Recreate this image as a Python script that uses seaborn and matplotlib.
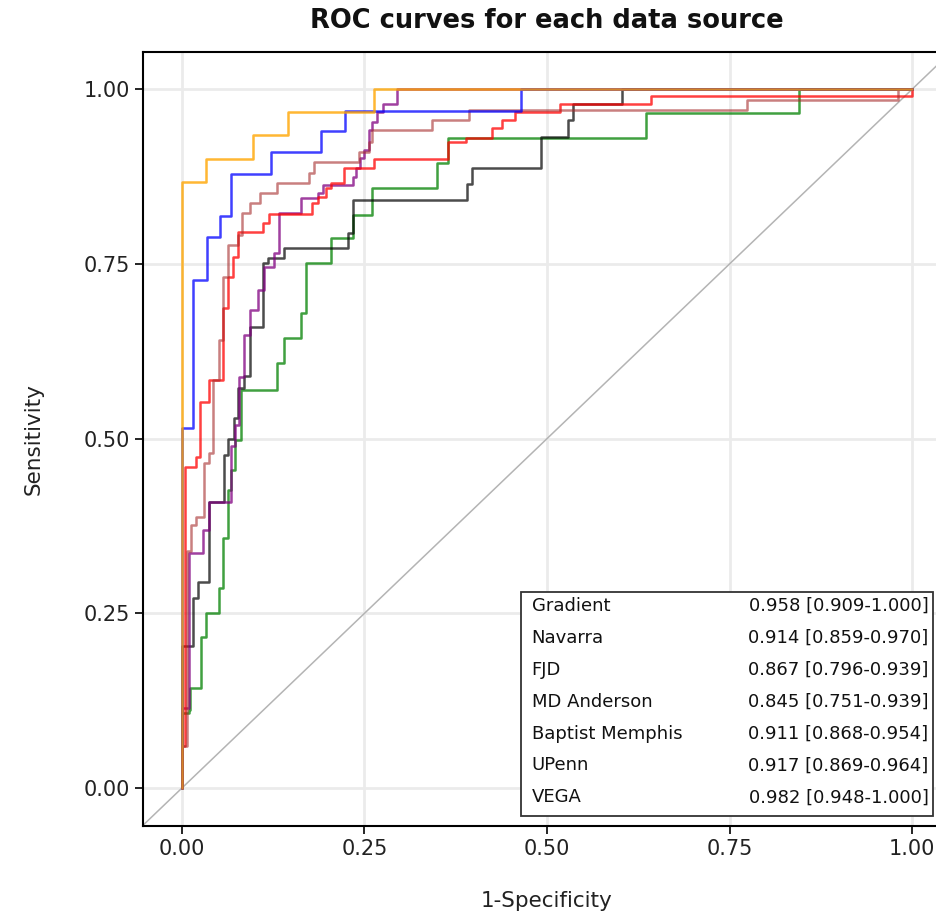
import numpy as np
import pandas as pd
import matplotlib
matplotlib.use("Agg")
import matplotlib.pyplot as plt
import seaborn as sns
from matplotlib.patches import Rectangle

# ---------------- data ----------------
sources = ["Gradient", "Navarra", "FJD", "MD Anderson", "Baptist Memphis", "UPenn", "VEGA"]
auc_text = ["0.958 [0.909-1.000]", "0.914 [0.859-0.970]", "0.867 [0.796-0.939]",
            "0.845 [0.751-0.939]", "0.911 [0.868-0.954]", "0.917 [0.869-0.964]",
            "0.982 [0.948-1.000]"]

gradient_fpr = [0, 0, 0.016, 0.016, 0.034, 0.034, 0.052, 0.052, 0.068, 0.068, 0.122, 0.122,
                0.190, 0.190, 0.224, 0.224, 0.465, 0.465, 1.0]
gradient_tpr = [0, 0.515, 0.515, 0.727, 0.727, 0.788, 0.788, 0.818, 0.818, 0.878, 0.878, 0.910,
                0.910, 0.940, 0.940, 0.969, 0.969, 1.0, 1.0]

navarra_fpr = [0, 0, 0.005, 0.005, 0.019, 0.019, 0.025, 0.025, 0.037, 0.037, 0.056, 0.056,
               0.063, 0.063, 0.070, 0.070, 0.077, 0.077, 0.111, 0.111, 0.119, 0.119, 0.178, 0.178,
               0.186, 0.186, 0.197, 0.197, 0.204, 0.204, 0.222, 0.222, 0.263, 0.263, 0.364, 0.364,
               0.389, 0.389, 0.425, 0.425, 0.439, 0.439, 0.456, 0.456, 0.518, 0.518, 0.642, 0.642,
               1.0, 1.0]
navarra_tpr = [0, 0.06, 0.06, 0.459, 0.459, 0.474, 0.474, 0.552, 0.552, 0.584, 0.584, 0.687,
               0.687, 0.731, 0.731, 0.760, 0.760, 0.795, 0.795, 0.808, 0.808, 0.821, 0.821, 0.837,
               0.837, 0.845, 0.845, 0.858, 0.858, 0.866, 0.866, 0.887, 0.887, 0.900, 0.900, 0.924,
               0.924, 0.930, 0.930, 0.944, 0.944, 0.956, 0.956, 0.967, 0.967, 0.979, 0.979, 0.990,
               0.990, 1.0]

fjd_fpr = [0, 0, 0.015, 0.015, 0.022, 0.022, 0.037, 0.037, 0.058, 0.058, 0.064, 0.064,
           0.071, 0.071, 0.077, 0.077, 0.085, 0.085, 0.094, 0.094, 0.111, 0.111, 0.118, 0.118,
           0.140, 0.140, 0.228, 0.228, 0.234, 0.234, 0.390, 0.390, 0.397, 0.397, 0.492, 0.492,
           0.529, 0.529, 0.536, 0.536, 0.603, 0.603, 1.0]
fjd_tpr = [0, 0.203, 0.203, 0.272, 0.272, 0.295, 0.295, 0.409, 0.409, 0.476, 0.476, 0.500,
           0.500, 0.530, 0.530, 0.573, 0.573, 0.590, 0.590, 0.660, 0.660, 0.751, 0.751, 0.759,
           0.759, 0.772, 0.772, 0.794, 0.794, 0.841, 0.841, 0.864, 0.864, 0.887, 0.887, 0.931,
           0.931, 0.956, 0.956, 0.979, 0.979, 1.0, 1.0]

mda_fpr = [0, 0, 0.010, 0.010, 0.012, 0.012, 0.026, 0.026, 0.033, 0.033, 0.051, 0.051,
           0.057, 0.057, 0.064, 0.064, 0.068, 0.068, 0.073, 0.073, 0.081, 0.081, 0.130, 0.130,
           0.140, 0.140, 0.163, 0.163, 0.170, 0.170, 0.205, 0.205, 0.235, 0.235, 0.260, 0.260,
           0.350, 0.350, 0.364, 0.364, 0.635, 0.635, 0.845, 0.845, 1.0]
mda_tpr = [0, 0.107, 0.107, 0.112, 0.112, 0.144, 0.144, 0.216, 0.216, 0.250, 0.250, 0.286,
           0.286, 0.358, 0.358, 0.426, 0.426, 0.455, 0.455, 0.498, 0.498, 0.569, 0.569, 0.608,
           0.608, 0.644, 0.644, 0.680, 0.680, 0.751, 0.751, 0.787, 0.787, 0.820, 0.820, 0.858,
           0.858, 0.894, 0.894, 0.930, 0.930, 0.966, 0.966, 1.0, 1.0]

baptist_fpr = [0, 0, 0.010, 0.010, 0.029, 0.029, 0.037, 0.037, 0.067, 0.067, 0.073, 0.073,
               0.078, 0.078, 0.085, 0.085, 0.094, 0.094, 0.105, 0.105, 0.112, 0.112, 0.126, 0.126,
               0.133, 0.133, 0.163, 0.163, 0.186, 0.186, 0.193, 0.193, 0.234, 0.234, 0.238, 0.238,
               0.244, 0.244, 0.250, 0.250, 0.256, 0.256, 0.261, 0.261, 0.267, 0.267, 0.276, 0.276,
               0.295, 0.295, 1.0]
baptist_tpr = [0, 0.115, 0.115, 0.336, 0.336, 0.369, 0.369, 0.409, 0.409, 0.490, 0.490, 0.520,
               0.520, 0.588, 0.588, 0.648, 0.648, 0.684, 0.684, 0.712, 0.712, 0.745, 0.745, 0.765,
               0.765, 0.823, 0.823, 0.844, 0.844, 0.851, 0.851, 0.863, 0.863, 0.874, 0.874, 0.887,
               0.887, 0.901, 0.901, 0.913, 0.913, 0.941, 0.941, 0.953, 0.953, 0.967, 0.967, 0.979,
               0.979, 1.0, 1.0]

upenn_fpr = [0, 0, 0.007, 0.007, 0.013, 0.013, 0.019, 0.019, 0.030, 0.030, 0.037, 0.037,
             0.043, 0.043, 0.051, 0.051, 0.056, 0.056, 0.063, 0.063, 0.077, 0.077, 0.082, 0.082,
             0.094, 0.094, 0.107, 0.107, 0.131, 0.131, 0.174, 0.174, 0.181, 0.181, 0.242, 0.242,
             0.256, 0.256, 0.261, 0.261, 0.343, 0.343, 0.393, 0.393, 0.774, 0.774, 0.981, 0.981,
             1.0]
upenn_tpr = [0, 0.06, 0.06, 0.340, 0.340, 0.376, 0.376, 0.388, 0.388, 0.465, 0.465, 0.479,
             0.479, 0.584, 0.584, 0.641, 0.641, 0.731, 0.731, 0.777, 0.777, 0.791, 0.791, 0.823,
             0.823, 0.837, 0.837, 0.851, 0.851, 0.866, 0.866, 0.880, 0.880, 0.896, 0.896, 0.910,
             0.910, 0.924, 0.924, 0.941, 0.941, 0.956, 0.956, 0.970, 0.970, 0.984, 0.984, 1.0,
             1.0]

vega_fpr = [0, 0, 0.033, 0.033, 0.098, 0.098, 0.146, 0.146, 0.263, 0.263, 1.0]
vega_tpr = [0, 0.867, 0.867, 0.900, 0.900, 0.934, 0.934, 0.967, 0.967, 1.0, 1.0]

ticks = [0.0, 0.25, 0.50, 0.75, 1.0]
tick_labels = ["0.00", "0.25", "0.50", "0.75", "1.00"]

curves = {
    "MD Anderson": (mda_fpr, mda_tpr),
    "FJD": (fjd_fpr, fjd_tpr),
    "Baptist Memphis": (baptist_fpr, baptist_tpr),
    "Navarra": (navarra_fpr, navarra_tpr),
    "UPenn": (upenn_fpr, upenn_tpr),
    "Gradient": (gradient_fpr, gradient_tpr),
    "VEGA": (vega_fpr, vega_tpr),
}
colors = {
    "MD Anderson": "#008000",
    "FJD": "#000000",
    "Baptist Memphis": "#800080",
    "Navarra": "#FF0000",
    "UPenn": "#A52A2A",
    "Gradient": "#0000FF",
    "VEGA": "#FFA500",
}
alphas = {"MD Anderson": 0.75, "FJD": 0.7, "Baptist Memphis": 0.75, "Navarra": 0.75,
          "UPenn": 0.6, "Gradient": 0.75, "VEGA": 0.8}

rows = []
for name, (fx, fy) in curves.items():
    for i, (a, b) in enumerate(zip(fx, fy)):
        rows.append({"source": name, "order": i, "fpr": a, "tpr": b})
df = pd.DataFrame(rows)

# ---------------- figure ----------------
sns.set_theme(style="white")
plt.rcParams["font.family"] = ["DejaVu Sans"]

fig = plt.figure(figsize=(9.37, 9.15), dpi=100)
ax = fig.add_axes([143 / 937, 89 / 915, 808 / 937, 774 / 915])

ax.set_xlim(-0.053, 1.053)
ax.set_ylim(-0.054, 1.053)
ax.set_xticks(ticks)
ax.set_yticks(ticks)
ax.set_xticklabels(tick_labels)
ax.set_yticklabels(tick_labels)
ax.grid(True, color="#ebebeb", linewidth=2, zorder=0)
ax.set_axisbelow(True)

ax.axline((0, 0), (1, 1), color="#b4b4b4", linewidth=1.1, zorder=1)

for name in curves:
    sub = df[df["source"] == name]
    sns.lineplot(data=sub, x="fpr", y="tpr", sort=False, estimator=None,
                 color=colors[name], alpha=alphas[name], linewidth=1.8, ax=ax, zorder=3)

for s in ax.spines.values():
    s.set_color("black")
    s.set_linewidth(1.5)

ax.tick_params(axis="both", which="both", direction="out", length=6, width=1.2,
               color="black", labelsize=15, labelcolor="#222222", left=True, bottom=True)
ax.set_xlabel("1-Specificity", fontsize=15.5, color="#222222", labelpad=23)
ax.set_ylabel("Sensitivity", fontsize=15.5, color="#222222", labelpad=29)
ax.set_title("ROC curves for each data source", fontsize=18.5, fontweight="bold",
             color="#111111", pad=17)

# text-only legend table
box = Rectangle((0.468, 0.013), 0.51, 0.289, transform=ax.transAxes,
                facecolor="white", edgecolor="#333333", linewidth=1.3, zorder=5)
ax.add_patch(box)
y0, dy = 0.284, (0.284 - 0.037) / 6
for i, (name, txt) in enumerate(zip(sources, auc_text)):
    y = y0 - i * dy
    ax.text(0.481, y, name, transform=ax.transAxes, fontsize=13, color="#111111",
            ha="left", va="center", zorder=6)
    ax.text(0.972, y, txt, transform=ax.transAxes, fontsize=13, color="#111111",
            ha="right", va="center", zorder=6)

fig.savefig("out.png", dpi=100)
